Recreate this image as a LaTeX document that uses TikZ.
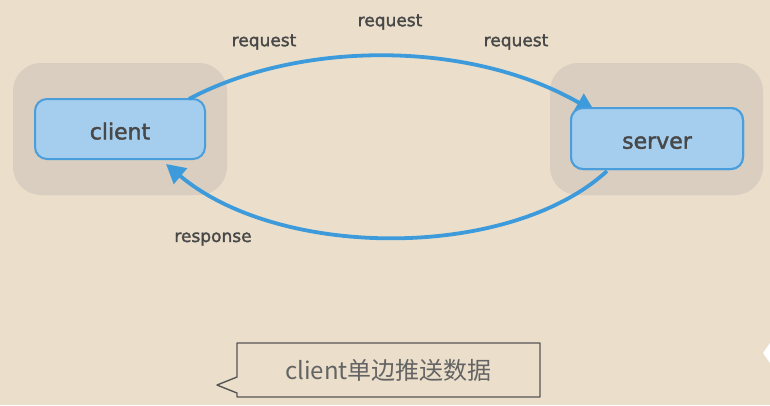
\documentclass[tikz,border=0pt]{standalone}
\usepackage{fontspec}
\setmainfont{DejaVu Sans}
\newfontfamily\lblfont[FakeBold=1.8]{DejaVu Sans}
\newfontfamily\cjk{Noto Sans CJK SC}
\usetikzlibrary{arrows.meta}
\definecolor{bgcol}{RGB}{235,223,203}
\definecolor{greybox}{RGB}{217,206,191}
\definecolor{nodefill}{RGB}{165,205,238}
\definecolor{nodeline}{RGB}{74,158,219}
\definecolor{arrowcol}{RGB}{62,155,219}
\definecolor{textcol}{RGB}{72,72,72}
\definecolor{calloutline}{RGB}{85,85,85}
\definecolor{callouttext}{RGB}{100,100,100}
\tikzset{
  groupbox/.style={fill=greybox, rounded corners=28pt, minimum width=213pt, minimum height=132pt, inner sep=0pt},
  mainbox/.style={fill=nodefill, draw=nodeline, line width=2pt, rounded corners=12pt, inner sep=0pt, text=textcol, font=\lblfont\fontsize{22}{26}\selectfont},
  lbl/.style={text=textcol, font=\lblfont\fontsize{17}{20}\selectfont, inner sep=0pt},
  flow/.style={draw=arrowcol, line width=3.8pt, -{Triangle[length=19pt,width=20pt]}},
}
\begin{document}
\begin{tikzpicture}[x=1pt,y=-1pt]
\fill[bgcol] (0,0) rectangle (770,405);
\useasboundingbox (0,0) rectangle (770,405);
% group backgrounds
\node[groupbox, minimum width=214pt] (lbg) at (120,129) {};
\node[groupbox] (rbg) at (656.5,129) {};
% boxes
\node[mainbox, minimum width=170pt, minimum height=60pt] (client) at (120,129) {\raisebox{-2pt}[\height][0pt]{client}};
\node[mainbox, minimum width=172pt, minimum height=61pt] (server) at (657,138.5) {\raisebox{-4pt}[\height][0pt]{server}};
% arrows (server drawn again on top to hide part of the arrow tip)
\draw[flow] ([xshift=-17pt,yshift=-1pt]client.north east) .. controls (300,40) and (470,40) .. ([xshift=25pt,yshift=-5pt]server.north west);
\draw[flow] ([xshift=37pt,yshift=-1pt]server.south west) .. controls (510,260) and (280,260) .. ([xshift=-40pt,yshift=-4pt]client.south east);
\node[mainbox, minimum width=172pt, minimum height=61pt] (server2) at (657,138.5) {\raisebox{-4pt}[\height][0pt]{server}};
% labels
\node[lbl] (req1) at (264,42) {request};
\node[lbl] (req2) at (390,22) {request};
\node[lbl] (req3) at (516,42) {request};
\node[lbl] (resp) at (213,239) {response};
% callout
\draw[calloutline, line width=1.4pt, line join=round] (237,343) -- (540,343) -- (540,397) -- (237,397) -- (237,393) -- (217,385) -- (237,377) -- cycle;
\node[text=callouttext, font=\cjk\fontsize{24}{28}\selectfont, inner sep=0pt] (callout) at (388.5,370) {client单边推送数据};
% edge artifact
\fill[white] (763,353) -- (770,343) -- (770,363) -- cycle;
\end{tikzpicture}
\end{document}
